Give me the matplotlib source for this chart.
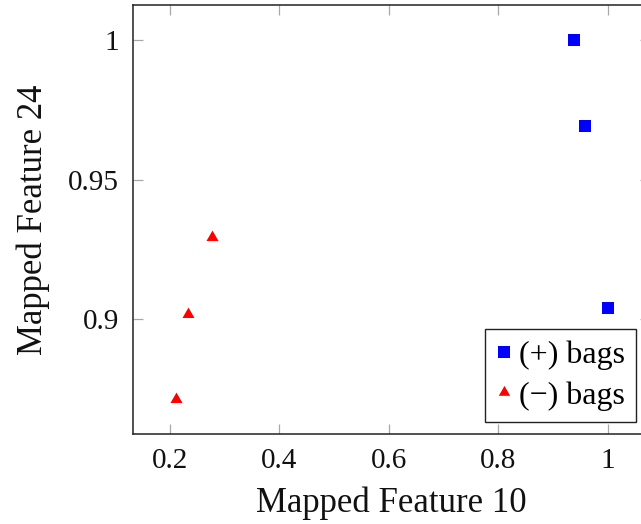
import matplotlib
matplotlib.use("Agg")
import matplotlib.pyplot as plt

# Mapped feature values for positive and negative bags
pos_x = [0.938, 0.958, 1.000]
pos_y = [1.000, 0.9694, 0.904]
neg_x = [0.278, 0.234, 0.2116]
neg_y = [0.9295, 0.902, 0.8716]

x_ticks = [0.2, 0.4, 0.6, 0.8, 1.0]
x_ticklabels = ["0.2", "0.4", "0.6", "0.8", "1"]
y_ticks = [0.9, 0.95, 1.0]
y_ticklabels = ["0.9", "0.95", "1"]

plt.rcParams['font.family'] = ['Liberation Serif', 'DejaVu Serif']

fig = plt.figure(figsize=(6.41, 5.24), dpi=100)
ax = fig.add_axes([133 / 641, (524 - 434.3) / 524, 517 / 641, 429.6 / 524])

tri = [(0, 1), (0.866, -0.5), (-0.866, -0.5), (0, 1)]

ax.plot(pos_x, pos_y, linestyle='none', marker='s', markersize=8.6,
        color='#0000ff', markeredgewidth=0, label='(+) bags')
ax.plot(neg_x, neg_y, linestyle='none', marker=tri, markersize=10,
        color='#ff0000', markeredgewidth=0, label='(\u2212) bags')

ax.set_xlim(0.133, 1.0767)
ax.set_ylim(0.8588, 1.0128)

ax.set_xticks(x_ticks)
ax.set_xticklabels(x_ticklabels)
ax.set_yticks(y_ticks)
ax.set_yticklabels(y_ticklabels)

ax.tick_params(direction='in', length=7.5, width=0.9, color='#a8a8a8',
               top=True, right=True, labelsize=21, pad=10,
               labelcolor='#111111')
for s in ax.spines.values():
    s.set_color('#222222')
    s.set_linewidth(1.1)

ax.set_xlabel('Mapped Feature 10', fontsize=25, labelpad=9, color='#111111')
ax.set_ylabel('Mapped Feature 24', fontsize=25, labelpad=13, color='#111111')

leg = ax.legend(loc='lower right', bbox_to_anchor=(636 / 641, (524 - 421.7) / 524),
                bbox_transform=fig.transFigure, borderaxespad=0,
                fontsize=23, frameon=True, fancybox=False, framealpha=1,
                edgecolor='#222222', handlelength=0.5, handletextpad=0.2,
                borderpad=0.35, labelspacing=0.35, markerscale=0.95)
leg.get_frame().set_linewidth(1.0)

fig.savefig('out.png', dpi=100)
